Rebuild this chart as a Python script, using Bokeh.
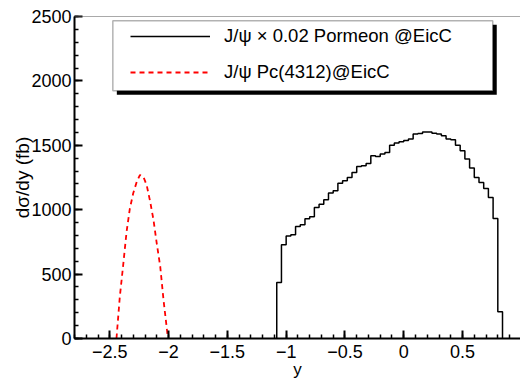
from bokeh.plotting import figure
from bokeh.models import (SingleIntervalTicker, Legend, LegendItem, BoxAnnotation,
                          Span, Range1d)
from bokeh.embed import file_html
from bokeh.resources import INLINE

# ---------------- data ----------------
# J/psi x 0.02 Pomeron @EicC : histogram, bin edges and contents (fb)
pomeron_edges = [-1.08, -1.04, -1.00, -0.96, -0.92, -0.88, -0.84, -0.80, -0.76, -0.72,
                 -0.68, -0.64, -0.60, -0.56, -0.52, -0.48, -0.44, -0.40, -0.36, -0.32,
                 -0.28, -0.24, -0.20, -0.16, -0.12, -0.08, -0.04, 0.00, 0.04, 0.08,
                 0.12, 0.16, 0.20, 0.24, 0.28, 0.32, 0.36, 0.40, 0.44, 0.48,
                 0.52, 0.56, 0.60, 0.64, 0.68, 0.72, 0.76, 0.80, 0.84]
pomeron_values = [435, 727, 795, 805, 870, 883, 929, 945, 1017, 1043,
                  1077, 1129, 1147, 1206, 1224, 1250, 1289, 1335, 1341, 1359,
                  1418, 1413, 1432, 1444, 1501, 1517, 1527, 1537, 1548, 1587,
                  1592, 1604, 1604, 1594, 1587, 1574, 1548, 1543, 1501, 1457,
                  1393, 1323, 1250, 1211, 1165, 1095, 932, 207]

# J/psi Pc(4312) @EicC : smooth dashed curve
pc_y = [-2.443, -2.415, -2.386, -2.357, -2.329, -2.300, -2.271, -2.243, -2.214,
        -2.186, -2.157, -2.129, -2.100, -2.071, -2.043, -2.014, -2.005]
pc_values = [0, 320, 570, 830, 1010, 1130, 1215, 1270, 1255,
             1190, 1065, 925, 735, 560, 300, 70, 0]

x_tick_values = [-2.5, -2, -1.5, -1, -0.5, 0, 0.5]
x_tick_labels = ["\u22122.5", "\u22122", "\u22121.5", "\u22121", "\u22120.5", "0", "0.5"]
y_tick_values = [0, 500, 1000, 1500, 2000, 2500]
y_tick_labels = ["0", "500", "1000", "1500", "2000", "2500"]

legend_labels = ["J/\u03c8 \u00d7 0.02 Pormeon @EicC", "J/\u03c8 Pc(4312)@EicC"]

# ---------------- figure ----------------
FONT = "Liberation Sans"
x_start, x_end = -2.8, 0.993
y_start, y_end = 0, 2500

p = figure(width=520, height=381, x_range=Range1d(x_start, x_end),
           y_range=Range1d(y_start, y_end), output_backend="svg",
           toolbar_location=None, min_border_left=74, min_border_right=0,
           min_border_top=16, min_border_bottom=43)
p.background_fill_color = "white"
p.border_fill_color = "white"
p.outline_line_color = None
p.xgrid.visible = False
p.ygrid.visible = False

p.xaxis.ticker = SingleIntervalTicker(interval=0.5, num_minor_ticks=5)
p.yaxis.ticker = SingleIntervalTicker(interval=500, num_minor_ticks=5)
p.xaxis.major_label_overrides = dict(zip(x_tick_values, x_tick_labels))
p.yaxis.major_label_overrides = dict(zip(y_tick_values, y_tick_labels))

for ax in (p.xaxis, p.yaxis):
    ax.axis_line_width = 2
    ax.axis_line_color = "black"
    ax.major_tick_in = 8
    ax.major_tick_out = 0
    ax.minor_tick_in = 4
    ax.minor_tick_out = 0
    ax.major_tick_line_width = 2
    ax.minor_tick_line_width = 1.5
    ax.major_tick_line_color = "black"
    ax.minor_tick_line_color = "black"
    ax.major_label_text_font = FONT
    ax.major_label_text_font_size = "18px"
    ax.major_label_text_color = "black"
    ax.axis_label_text_font = FONT
    ax.axis_label_text_font_style = "normal"
    ax.axis_label_text_color = "black"

p.xaxis.axis_label = "y"
p.yaxis.axis_label = "d\u03c3/dy (fb)"
p.xaxis.axis_label_text_font_size = "17px"
p.yaxis.axis_label_text_font_size = "19px"
p.xaxis.major_label_standoff = 6
p.yaxis.major_label_standoff = 3
p.xaxis.axis_label_standoff = -1
p.yaxis.axis_label_standoff = -5

# top frame line
p.add_layout(Span(location=y_end, dimension="width", line_color="#555555", line_width=1))

# histogram (step outline)
hx = [pomeron_edges[0]] + pomeron_edges
hy = [0] + pomeron_values + [0]
r_pom = p.step(x=hx, y=hy, mode="after", line_color="black", line_width=1.5)

# Pc curve
r_pc = p.line(x=pc_y, y=pc_values, line_color="red", line_width=1.8, line_dash="5 4")

# legend box with shadow (ROOT style)
shadow = BoxAnnotation(left=-2.440, right=0.791, top=2436, bottom=1892,
                       fill_color="black", fill_alpha=1, line_color=None)
box = BoxAnnotation(left=-2.474, right=0.757, top=2467, bottom=1923,
                    fill_color="white", fill_alpha=1, line_color="black", line_width=1.5)
p.add_layout(shadow)
p.add_layout(box)

legend = Legend(items=[LegendItem(label=legend_labels[0], renderers=[r_pom]),
                       LegendItem(label=legend_labels[1], renderers=[r_pc])],
                location=(56, 255), padding=0, spacing=14,
                glyph_width=80, glyph_height=20, label_height=20, label_standoff=14,
                label_text_font=FONT, label_text_font_size="18.5px",
                label_text_color="black",
                border_line_color=None, background_fill_alpha=0)
p.add_layout(legend)

open("out.html", "w").write(file_html(p, INLINE))
